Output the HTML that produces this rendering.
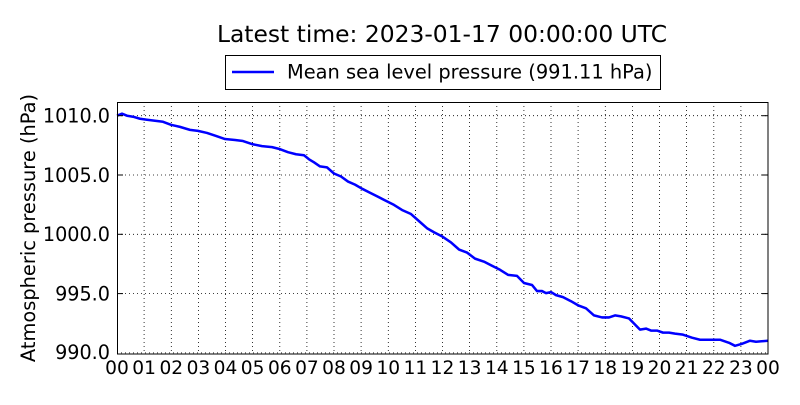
<!DOCTYPE html>
<html><head><style>body{margin:0;background:#fff}</style></head><body>
<svg width="800" height="400" xmlns="http://www.w3.org/2000/svg" font-family="DejaVu Sans, sans-serif">
<rect width="800" height="400" fill="#fff"/>
<text x="442" y="42" font-size="23.4" text-anchor="middle">Latest time: 2023-01-17 00:00:00 UTC</text>
<rect x="225.5" y="55.5" width="435" height="34" fill="#fff" stroke="#000"/>
<line x1="232" y1="72" x2="274" y2="72" stroke="#00f" stroke-width="2.5"/>
<text x="287" y="78.5" font-size="19.4">Mean sea level pressure (991.11 hPa)</text>
<g stroke="#000" stroke-dasharray="1,3" stroke-width="0.8">
<line x1="144.1" y1="102" x2="144.1" y2="354"/><line x1="171.3" y1="102" x2="171.3" y2="354"/><line x1="198.4" y1="102" x2="198.4" y2="354"/><line x1="225.5" y1="102" x2="225.5" y2="354"/><line x1="252.6" y1="102" x2="252.6" y2="354"/><line x1="279.8" y1="102" x2="279.8" y2="354"/><line x1="306.9" y1="102" x2="306.9" y2="354"/><line x1="334" y1="102" x2="334" y2="354"/><line x1="361.1" y1="102" x2="361.1" y2="354"/><line x1="388.3" y1="102" x2="388.3" y2="354"/><line x1="415.4" y1="102" x2="415.4" y2="354"/><line x1="442.5" y1="102" x2="442.5" y2="354"/><line x1="469.6" y1="102" x2="469.6" y2="354"/><line x1="496.8" y1="102" x2="496.8" y2="354"/><line x1="523.9" y1="102" x2="523.9" y2="354"/><line x1="551" y1="102" x2="551" y2="354"/><line x1="578.1" y1="102" x2="578.1" y2="354"/><line x1="605.3" y1="102" x2="605.3" y2="354"/><line x1="632.4" y1="102" x2="632.4" y2="354"/><line x1="659.5" y1="102" x2="659.5" y2="354"/><line x1="686.6" y1="102" x2="686.6" y2="354"/><line x1="713.8" y1="102" x2="713.8" y2="354"/><line x1="740.9" y1="102" x2="740.9" y2="354"/>
<line x1="117" y1="115.7" x2="768" y2="115.7"/><line x1="117" y1="175" x2="768" y2="175"/><line x1="117" y1="234.3" x2="768" y2="234.3"/><line x1="117" y1="293.6" x2="768" y2="293.6"/><line x1="117" y1="352.9" x2="768" y2="352.9"/>
</g>
<g transform="translate(0,115.7) scale(1,1.0137) translate(0,-115)">
<polyline fill="none" stroke="#00f" stroke-width="2.5" stroke-linejoin="round" points="117,115 122,113 127,115 133,116 140,118 147,119 155,120 163,121 171,124 180,126 190,129 198,130 207,132 216,135 225,138 235,139 243,140 252,143 262,145 272,146 280,148 288,151 296,153 304,154 309,158 314,161 320,165 327,166 334,172 341,175 348,180 355,183 362,187 370,191 378,195 386,199 394,203 402,208 411,212 419,219 427,226 434,230 442,234 451,240 459,247 467,250 475,256 484,259 492,263 500,267 508,272 517,273 524,280 532,282 537,288 542,288 546,290 551,289 556,292 563,294 571,298 578,302 586,305 594,312 602,314 609,314 615,312 621,313 629,315 634,320 640,326 646,325 651,327 657,327 663,329 669,329 675,330 683,331 692,334 700,336 710,336 720,336 729,339 735,342 742,340 750,337 756,338 768,337"/>
</g>
<rect x="117.5" y="102.5" width="650.5" height="251.5" fill="none" stroke="#000"/>
<g stroke="#000">
<line x1="117" y1="115.7" x2="123" y2="115.7"/><line x1="117" y1="175" x2="123" y2="175"/><line x1="117" y1="234.3" x2="123" y2="234.3"/><line x1="117" y1="293.6" x2="123" y2="293.6"/>
<line x1="768" y1="115.7" x2="762" y2="115.7"/><line x1="768" y1="175" x2="762" y2="175"/><line x1="768" y1="234.3" x2="762" y2="234.3"/><line x1="768" y1="293.6" x2="762" y2="293.6"/>
</g>
<g font-size="19.2" text-anchor="end">
<text x="110" y="122.5">1010.0</text><text x="110" y="182">1005.0</text><text x="110" y="241">1000.0</text><text x="110" y="300.5">995.0</text><text x="110" y="359">990.0</text>
</g>
<g font-size="18.6" text-anchor="middle">
<text x="117" y="374">00</text><text x="144.1" y="374">01</text><text x="171.3" y="374">02</text><text x="198.4" y="374">03</text><text x="225.5" y="374">04</text><text x="252.6" y="374">05</text><text x="279.8" y="374">06</text><text x="306.9" y="374">07</text><text x="334" y="374">08</text><text x="361.1" y="374">09</text><text x="388.3" y="374">10</text><text x="415.4" y="374">11</text><text x="442.5" y="374">12</text><text x="469.6" y="374">13</text><text x="496.8" y="374">14</text><text x="523.9" y="374">15</text><text x="551" y="374">16</text><text x="578.1" y="374">17</text><text x="605.3" y="374">18</text><text x="632.4" y="374">19</text><text x="659.5" y="374">20</text><text x="686.6" y="374">21</text><text x="713.8" y="374">22</text><text x="740.9" y="374">23</text><text x="768" y="374">00</text>
</g>
<text transform="translate(35,228) rotate(-90)" font-size="19.4" text-anchor="middle">Atmospheric pressure (hPa)</text>
</svg>
</body></html>
